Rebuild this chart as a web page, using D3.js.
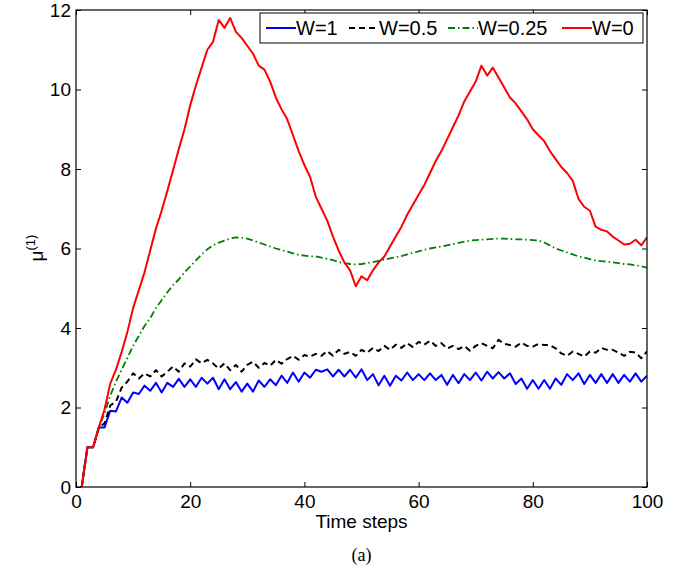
<!DOCTYPE html>
<html>
<head>
<meta charset="utf-8">
<script src="https://cdn.jsdelivr.net/npm/d3@7"></script>
<style>
  body { margin: 0; background: #fff; }
  text { font-family: "Liberation Sans", Arial, Helvetica, sans-serif; }
</style>
</head>
<body>
<div id="chart"></div>
<script>
// series values, one per time step 1..100
var steps = d3.range(1, 101);

var w1 = [0, 1.0, 1.0, 1.5, 1.5, 1.92, 1.9, 2.25, 2.12, 2.38,
  2.34, 2.55, 2.42, 2.62, 2.38, 2.62, 2.52, 2.72, 2.52, 2.71,
  2.52, 2.75, 2.6, 2.75, 2.46, 2.71, 2.46, 2.64, 2.4, 2.6,
  2.4, 2.68, 2.52, 2.71, 2.56, 2.8, 2.62, 2.88, 2.65, 2.88,
  2.75, 2.95, 2.9, 2.96, 2.78, 2.95, 2.78, 2.95, 2.75, 2.96,
  2.69, 2.84, 2.56, 2.8, 2.55, 2.8, 2.68, 2.88, 2.69, 2.84,
  2.69, 2.86, 2.69, 2.82, 2.57, 2.82, 2.61, 2.84, 2.69, 2.88,
  2.68, 2.9, 2.73, 2.89, 2.73, 2.86, 2.59, 2.73, 2.47, 2.69,
  2.47, 2.69, 2.47, 2.73, 2.57, 2.84, 2.69, 2.86, 2.59, 2.82,
  2.62, 2.84, 2.62, 2.84, 2.62, 2.82, 2.65, 2.86, 2.65, 2.8];

var w05 = [0, 1.0, 1.0, 1.5, 1.6, 2.05, 2.15, 2.5, 2.65, 2.86,
  2.73, 2.86, 2.78, 2.94, 2.78, 2.9, 3.03, 2.9, 3.11, 3.03,
  3.21, 3.11, 3.2, 3.11, 2.98, 3.11, 2.94, 3.07, 2.9, 3.07,
  3.15, 3.0, 3.12, 3.05, 3.2, 3.1, 3.22, 3.3, 3.2, 3.32,
  3.28, 3.35, 3.3, 3.42, 3.3, 3.45, 3.35, 3.4, 3.3, 3.45,
  3.38, 3.5, 3.42, 3.55, 3.45, 3.58, 3.5, 3.62, 3.52, 3.65,
  3.58, 3.68, 3.55, 3.62, 3.48, 3.55, 3.47, 3.55, 3.43, 3.55,
  3.62, 3.55, 3.49, 3.7, 3.6, 3.57, 3.53, 3.63, 3.55, 3.53,
  3.6, 3.57, 3.57, 3.49, 3.36, 3.3, 3.41, 3.35, 3.28, 3.41,
  3.38, 3.5, 3.45, 3.45, 3.38, 3.3, 3.4, 3.38, 3.24, 3.41];

var w025 = [0, 1.0, 1.0, 1.5, 1.85, 2.3, 2.65, 2.95, 3.25, 3.55,
  3.8, 4.05, 4.25, 4.5, 4.7, 4.9, 5.08, 5.22, 5.4, 5.55,
  5.7, 5.85, 5.98, 6.08, 6.15, 6.2, 6.25, 6.28, 6.27, 6.25,
  6.2, 6.15, 6.1, 6.05, 6.0, 5.96, 5.92, 5.88, 5.84, 5.82,
  5.8, 5.8, 5.77, 5.74, 5.71, 5.66, 5.63, 5.61, 5.6, 5.61,
  5.63, 5.66, 5.69, 5.72, 5.75, 5.78, 5.81, 5.85, 5.89, 5.93,
  5.97, 6.0, 6.03, 6.05, 6.08, 6.11, 6.14, 6.17, 6.2, 6.21,
  6.22, 6.23, 6.24, 6.25, 6.25, 6.24, 6.23, 6.23, 6.22, 6.21,
  6.2, 6.15, 6.08, 6.0, 5.95, 5.9, 5.85, 5.8, 5.77, 5.73,
  5.7, 5.68, 5.67, 5.65, 5.63, 5.61, 5.6, 5.58, 5.55, 5.52];

var w0 = [0, 1.0, 1.0, 1.5, 1.95, 2.6, 2.95, 3.4, 3.9, 4.5,
  4.95, 5.4, 5.95, 6.5, 6.95, 7.45, 7.97, 8.5, 9.0, 9.6,
  10.1, 10.55, 11.0, 11.2, 11.75, 11.55, 11.8, 11.45, 11.3, 11.1,
  10.9, 10.6, 10.5, 10.2, 9.8, 9.5, 9.25, 8.85, 8.45, 8.1,
  7.8, 7.3, 7.0, 6.7, 6.3, 5.95, 5.65, 5.45, 5.05, 5.3,
  5.2, 5.45, 5.65, 5.8, 6.05, 6.3, 6.55, 6.85, 7.1, 7.35,
  7.6, 7.9, 8.2, 8.45, 8.75, 9.05, 9.35, 9.7, 9.95, 10.2,
  10.6, 10.35, 10.55, 10.3, 10.05, 9.8, 9.65, 9.45, 9.25, 9.0,
  8.85, 8.7, 8.45, 8.25, 8.05, 7.9, 7.7, 7.25, 7.05, 6.95,
  6.55, 6.47, 6.43, 6.3, 6.2, 6.1, 6.12, 6.22, 6.08, 6.28];

var seriesNames = ["W=1", "W=0.5", "W=0.25", "W=0"];
var xTicks = [0, 20, 40, 60, 80, 100];
var yTicks = [0, 2, 4, 6, 8, 10, 12];

var W = 684, H = 571;
var margin = {top: 10, right: 37, bottom: 84, left: 76};
var x = d3.scaleLinear().domain([0, 100]).range([margin.left, W - margin.right]);
var y = d3.scaleLinear().domain([0, 12]).range([H - margin.bottom, margin.top]);

var svg = d3.select("#chart").append("svg")
    .attr("width", W).attr("height", H);
svg.append("rect").attr("width", W).attr("height", H).attr("fill", "#fff");

var series = [
  {name: seriesNames[0], vals: w1,   color: "#0000ff", dash: null,        width: 2},
  {name: seriesNames[1], vals: w05,  color: "#000000", dash: "6,4",       width: 2},
  {name: seriesNames[2], vals: w025, color: "#008000", dash: "7,3,1.5,3", width: 1.8},
  {name: seriesNames[3], vals: w0,   color: "#ff0000", dash: null,        width: 2}
];

var line = d3.line()
    .x(function(d, i) { return x(steps[i]); })
    .y(function(d) { return y(d); });

var tickFont = "19px";

// axes, ticks pointing inward on all four sides
svg.append("g")
    .attr("transform", `translate(0,${y(0)})`)
    .call(d3.axisBottom(x).tickValues(xTicks).tickSize(-5).tickSizeOuter(0).tickPadding(8))
    .call(function(g) { g.select(".domain").remove(); })
    .selectAll("text").style("font-size", tickFont).attr("fill", "#000");

svg.append("g")
    .attr("transform", `translate(${x(0)},0)`)
    .call(d3.axisLeft(y).tickValues(yTicks).tickSize(-5).tickSizeOuter(0).tickPadding(5))
    .call(function(g) { g.select(".domain").remove(); })
    .selectAll("text").style("font-size", tickFont).attr("fill", "#000");

svg.append("g")
    .attr("transform", `translate(0,${y(12)})`)
    .call(d3.axisTop(x).tickValues(xTicks).tickSize(-5).tickSizeOuter(0).tickFormat(""))
    .call(function(g) { g.select(".domain").remove(); });

svg.append("g")
    .attr("transform", `translate(${x(100)},0)`)
    .call(d3.axisRight(y).tickValues(yTicks).tickSize(-5).tickSizeOuter(0).tickFormat(""))
    .call(function(g) { g.select(".domain").remove(); });

// lines
var clip = svg.append("clipPath").attr("id", "clip")
  .append("rect")
    .attr("x", x(0)).attr("y", y(12))
    .attr("width", x(100) - x(0)).attr("height", y(0) - y(12));

svg.append("g").attr("clip-path", "url(#clip)")
  .selectAll("path")
  .data(series)
  .join("path")
    .attr("fill", "none")
    .attr("stroke", function(d) { return d.color; })
    .attr("stroke-width", function(d) { return d.width; })
    .attr("stroke-dasharray", function(d) { return d.dash; })
    .attr("stroke-linejoin", "round")
    .attr("d", function(d) { return line(d.vals); });

// frame
svg.append("rect")
    .attr("x", x(0)).attr("y", y(12))
    .attr("width", x(100) - x(0)).attr("height", y(0) - y(12))
    .attr("fill", "none").attr("stroke", "#000").attr("stroke-width", 1.2);

// legend
var leg = svg.append("g");
leg.append("rect")
    .attr("x", 260).attr("y", 13).attr("width", 383).attr("height", 30)
    .attr("fill", "#fff").attr("stroke", "#000").attr("stroke-width", 1);
var legX = [266, 349, 448, 562];
series.forEach(function(s, i) {
  leg.append("line")
      .attr("x1", legX[i]).attr("x2", legX[i] + 30)
      .attr("y1", 28).attr("y2", 28)
      .attr("stroke", s.color).attr("stroke-width", s.width)
      .attr("stroke-dasharray", s.dash);
  leg.append("text")
      .attr("x", legX[i] + 30).attr("y", 35)
      .style("font-size", "20px")
      .text(s.name);
});

// axis labels
svg.append("text")
    .attr("x", (x(0) + x(100)) / 2).attr("y", 528)
    .attr("text-anchor", "middle")
    .style("font-size", "19px")
    .text("Time steps");

var yl = svg.append("text")
    .attr("transform", "translate(43,248) rotate(-90)")
    .attr("text-anchor", "middle")
    .style("font-size", "19px");
yl.append("tspan").text("μ");
yl.append("tspan").attr("dy", "-8").style("font-size", "13px").text("(1)");

svg.append("text")
    .attr("x", (x(0) + x(100)) / 2).attr("y", 561)
    .attr("text-anchor", "middle")
    .style("font-family", "'Liberation Serif', 'Times New Roman', serif")
    .style("font-size", "18px")
    .text("(a)");
</script>
</body>
</html>
